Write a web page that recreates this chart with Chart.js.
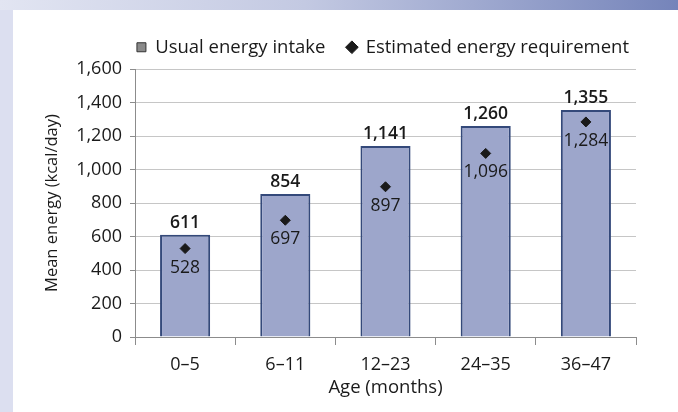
<!DOCTYPE html>
<html>
<head>
<meta charset="utf-8">
<script src="https://cdn.jsdelivr.net/npm/chart.js@4"></script>
<style>
  html, body { margin: 0; padding: 0; }
  body {
    width: 678px; height: 412px; overflow: hidden; position: relative;
    background: #dcdff0;
  }
  .topband {
    position: absolute; left: 0; top: 0; width: 678px; height: 10px;
    background: linear-gradient(to right, #e2e5f2 0%, #c3c9e2 45%, #7584ba 100%);
  }
  .panel {
    position: absolute; left: 13px; top: 10px; width: 665px; height: 402px;
    background: #fff;
  }
</style>
</head>
<body>
<div class="topband"></div>
<div class="panel"><canvas id="energyChart"></canvas></div>
<script>
// data
const ageGroups = ["0\u20135", "6\u201311", "12\u201323", "24\u201335", "36\u201347"];
const usualIntake = [611, 854, 1141, 1260, 1355];
const estimatedRequirement = [528, 697, 897, 1096, 1284];

const FONT = "'Open Sans', 'Noto Sans', sans-serif";
const fmt = v => v.toLocaleString("en-US");

// draws the value labels (above bars, below diamonds)
const valueLabels = {
    id: "valueLabels",
    afterDatasetsDraw(chart) {
        const ctx = chart.ctx;
        ctx.save();
        ctx.fillStyle = "#1a1a1a";
        ctx.textAlign = "center";
        ctx.textBaseline = "middle";

        const bars = chart.getDatasetMeta(0).data;
        ctx.font = "600 17.5px " + FONT;
        bars.forEach((bar, i) => {
            ctx.fillText(fmt(usualIntake[i]), bar.x, bar.y - 12);
        });

        const pts = chart.getDatasetMeta(1).data;
        ctx.font = "17.5px " + FONT;
        pts.forEach((pt, i) => {
            ctx.fillText(fmt(estimatedRequirement[i]), pt.x, pt.y + 19);
        });
        ctx.restore();
    }
};

// fixed legend height so the plot top lines up, and nudge it right
const legendTweak = {
    id: "legendTweak",
    afterInit(chart) {
        const lg = chart.legend;
        const fit = lg.fit;
        lg.fit = function () {
            fit.call(lg);
            this.height = 53;
        };
    },
    afterLayout(chart) {
        chart.legend.left += 15;
        chart.legend.right += 15;
    }
};

const chartEl = document.getElementById("energyChart");
new Chart(chartEl, {
    type: "bar",
    data: {
        labels: ageGroups,
        datasets: [
            {
                label: "Usual energy intake",
                data: usualIntake,
                backgroundColor: "#9da6cb",
                borderColor: "#34497a",
                borderWidth: 2,
                barPercentage: 0.5,
                categoryPercentage: 1,
                pointStyle: "rect",
                order: 2
            },
            {
                type: "line",
                label: "Estimated energy requirement",
                data: estimatedRequirement,
                showLine: false,
                pointStyle: "rectRot",
                pointRadius: 5,
                pointBackgroundColor: "#1a1a1a",
                pointBorderColor: "#1a1a1a",
                backgroundColor: "#1a1a1a",
                borderColor: "#1a1a1a",
                order: 1
            }
        ]
    },
    options: {
        responsive: true,
        maintainAspectRatio: false,
        animation: false,
        layout: { padding: { left: 0, right: 42, top: 6, bottom: 0 } },
        plugins: {
            tooltip: { enabled: false },
            legend: {
                position: "top",
                align: "end",
                labels: {
                    usePointStyle: true,
                    boxWidth: 9,
                    boxHeight: 9,
                    padding: 22,
                    color: "#1a1a1a",
                    font: { family: FONT, size: 18.5 },
                    sort: (a, b) => a.datasetIndex - b.datasetIndex,
                    generateLabels(chart) {
                        const items = Chart.defaults.plugins.legend.labels.generateLabels(chart);
                        items.forEach(it => {
                            if (it.datasetIndex === 0) {
                                it.fillStyle = "#8a8a8a";
                                it.strokeStyle = "#333";
                                it.lineWidth = 1;
                                it.pointStyle = "rect";
                            } else {
                                it.fillStyle = "#1a1a1a";
                                it.strokeStyle = "#1a1a1a";
                                it.pointStyle = "rectRot";
                            }
                        });
                        return items;
                    }
                }
            }
        },
        scales: {
            x: {
                afterFit(s) { s.height = 75; },
                grid: {
                    offset: true,
                    drawOnChartArea: false,
                    color: "#8c8c8c",
                    tickLength: 8
                },
                border: { color: "#8c8c8c", width: 1 },
                ticks: {
                    color: "#1a1a1a",
                    padding: 9,
                    font: { family: FONT, size: 18 }
                },
                title: {
                    display: true,
                    text: "Age (months)",
                    color: "#1a1a1a",
                    padding: { top: 0, bottom: 13 },
                    font: { family: FONT, size: 18.5 }
                }
            },
            y: {
                min: 0,
                max: 1600,
                afterFit(s) { s.width = 122; },
                ticks: {
                    stepSize: 200,
                    color: "#1a1a1a",
                    padding: 8,
                    font: { family: FONT, size: 18 },
                    callback: v => fmt(v)
                },
                grid: {
                    color: "#c6c6c6",
                    tickColor: "#8c8c8c",
                    tickLength: 5
                },
                border: { color: "#8c8c8c", width: 1 },
                title: {
                    display: true,
                    text: "Mean energy (kcal/day)",
                    color: "#1a1a1a",
                    padding: { top: 29, bottom: 0 },
                    font: { family: FONT, size: 16.5 }
                }
            }
        }
    },
    plugins: [valueLabels, legendTweak]
});
</script>
</body>
</html>
